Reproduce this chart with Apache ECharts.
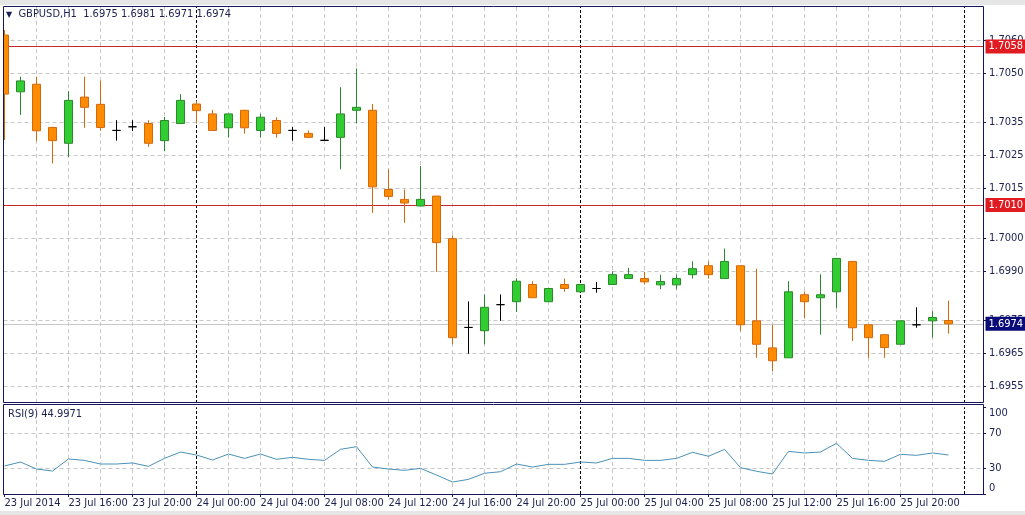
<!DOCTYPE html>
<html><head><meta charset="utf-8">
<script src="https://cdn.jsdelivr.net/npm/echarts@6.0.0/dist/echarts.min.js"></script>
<style>html,body{margin:0;padding:0;background:#fff}#c{width:1025px;height:515px}</style>
</head><body><div id="c"></div>
<script>
const chartTitle = 'GBPUSD,H1  1.6975 1.6981 1.6971 1.6974';
const rsiTitle = 'RSI(9) 44.9971';

const opens  = [1.70615,1.70443,1.70466,1.70335,1.70287,1.70427,1.70405,1.70326,1.70337,1.70347,
                1.70295,1.70347,1.70406,1.70376,1.70334,1.70387,1.70326,1.70356,1.70326,1.70317,
                1.70296,1.70305,1.70387,1.70387,1.70147,1.70117,1.70097,1.70127,1.69998,1.69729,
                1.69719,1.69798,1.69807,1.69859,1.69807,1.69859,1.69837,1.69847,1.69859,1.69877,
                1.69877,1.69858,1.69858,1.69889,1.69916,1.69877,1.69916,1.69749,1.69667,1.69637,
                1.69828,1.69819,1.69837,1.69929,1.69737,1.69707,1.69678,1.69737,1.69749,1.69750];
const closes = [1.70436,1.70476,1.70325,1.70295,1.70417,1.70396,1.70335,1.70326,1.70337,1.70287,
                1.70356,1.70417,1.70386,1.70326,1.70376,1.70334,1.70366,1.70317,1.70326,1.70305,
                1.70296,1.70376,1.70396,1.70155,1.70126,1.70106,1.70117,1.69986,1.69698,1.69729,
                1.69790,1.69798,1.69869,1.69819,1.69847,1.69847,1.69859,1.69847,1.69889,1.69889,
                1.69867,1.69868,1.69877,1.69907,1.69889,1.69929,1.69737,1.69678,1.69628,1.69837,
                1.69807,1.69828,1.69938,1.69728,1.69698,1.69668,1.69749,1.69737,1.69759,1.69740];
const lows   = [1.70297,1.70373,1.70294,1.70226,1.70246,1.70334,1.70325,1.70295,1.70324,1.70276,
                1.70263,1.70347,1.70347,1.70326,1.70304,1.70316,1.70304,1.70304,1.70295,1.70305,
                1.70296,1.70208,1.70347,1.70076,1.70117,1.70046,1.70097,1.69897,1.69678,1.69649,
                1.69678,1.69749,1.69776,1.69819,1.69807,1.69837,1.69837,1.69834,1.69859,1.69877,
                1.69859,1.69845,1.69845,1.69877,1.69877,1.69877,1.69718,1.69637,1.69597,1.69637,
                1.69757,1.69707,1.69788,1.69688,1.69637,1.69637,1.69678,1.69728,1.69698,1.69710];
const highs  = [1.70630,1.70489,1.70489,1.70337,1.70445,1.70489,1.70477,1.70357,1.70357,1.70357,
                1.70367,1.70436,1.70416,1.70388,1.70376,1.70388,1.70376,1.70366,1.70336,1.70326,
                1.70336,1.70457,1.70514,1.70406,1.70208,1.70147,1.70218,1.70127,1.70008,1.69808,
                1.69829,1.69829,1.69878,1.69869,1.69847,1.69877,1.69859,1.69867,1.69899,1.69909,
                1.69897,1.69889,1.69889,1.69929,1.69929,1.69968,1.69916,1.69907,1.69737,1.69869,
                1.69838,1.69890,1.69938,1.69929,1.69737,1.69707,1.69749,1.69790,1.69778,1.69810];
const rsiValues = [32.3,36.9,28.8,26.5,40.4,38.8,34.6,34.6,35.8,31.9,
                   41.1,48.4,45.0,39.2,46.1,41.1,46.1,40.0,42.3,40.0,
                   38.8,51.5,54.6,31.1,28.8,27.3,29.6,21.9,13.8,16.9,
                   23.9,25.7,34.6,31.1,34.2,34.2,36.9,35.8,41.1,41.1,
                   38.8,38.8,41.1,48.1,43.5,51.5,30.4,26.2,23.1,49.2,
                   47.3,48.4,58.5,41.1,38.8,37.7,45.8,44.6,47.3,45.0];

const priceTicks = [1.7060,1.7050,1.7035,1.7025,1.7015,1.7000,1.6990,1.6975,1.6965,1.6955];
const rsiTicks = [0,30,70,100];
const xTickLabels = ['23 Jul 2014','23 Jul 16:00','23 Jul 20:00','24 Jul 00:00','24 Jul 04:00',
                     '24 Jul 08:00','24 Jul 12:00','24 Jul 16:00','24 Jul 20:00','25 Jul 00:00',
                     '25 Jul 04:00','25 Jul 08:00','25 Jul 12:00','25 Jul 16:00','25 Jul 20:00'];
const redLevels = [1.7058, 1.7010];
const bidLevel = 1.6974;
const dayStartIdx = [12, 36, 60];
const rsiGridLevels = [70, 30];

// hourly categories (23 Jul 12:00 ... 26 Jul 01:00)
const dayNames = ['23 Jul','24 Jul','25 Jul','26 Jul'];
const categories = [];
for (let i = 0; i < 62; i++) {
  const h = 12 + i;
  categories.push(dayNames[Math.floor(h / 24)] + ' ' + String(h % 24).padStart(2, '0') + ':00');
}
const evenIdx = [];
for (let i = 2; i < 62; i += 2) if (dayStartIdx.indexOf(i) < 0) evenIdx.push(i);

const FONT = '"Liberation Sans Narrow", "DejaVu Sans Condensed", "Liberation Sans", sans-serif';
const NAVY = '#1b2050';
const BORDER = '#15155a';
const GRIDC = '#c8c8c8';
const dashStyle = {color: GRIDC, width: 1, type: [4, 3]};
const dotStyle = {color: '#000', width: 1, type: [3, 2]};

const candleData = opens.map((o, i) => [o, closes[i], lows[i], highs[i]]);
const tickFn = (idx) => idx % 4 === 0 && idx / 4 < xTickLabels.length;

const mainLines = [].concat(
  priceTicks.map(v => ({yAxis: v, lineStyle: dashStyle})),
  evenIdx.map(i => ({xAxis: i, lineStyle: dashStyle})),
  dayStartIdx.map(i => ({xAxis: i, lineStyle: dotStyle})),
  [{yAxis: bidLevel, lineStyle: {color: '#c8c8c8', width: 1, type: 'solid'}}],
  redLevels.map(v => ({yAxis: v, lineStyle: {color: '#c8282d', width: 1, type: 'solid'}}))
);
const rsiLines = [].concat(
  rsiGridLevels.map(v => ({yAxis: v, lineStyle: dashStyle})),
  evenIdx.map(i => ({xAxis: i, lineStyle: dashStyle})),
  dayStartIdx.map(i => ({xAxis: i, lineStyle: dotStyle}))
);
const tagLine = (v, bg) => ({
  yAxis: v,
  lineStyle: {color: 'rgba(0,0,0,0)', width: 0},
  label: {show: true, position: 'end', distance: -3, formatter: v.toFixed(4),
          backgroundColor: bg, color: '#fff', padding: [2, 3, 1, 3],
          fontFamily: FONT, fontSize: 11, align: 'left', verticalAlign: 'middle'}
});

const chart = echarts.init(document.getElementById('c'), null, {renderer: 'canvas'});
chart.setOption({
  animation: false,
  backgroundColor: '#ffffff',
  title: [
    {text: '{t|▼}  ' + chartTitle, left: 6, top: 9, padding: 0,
     textStyle: {fontFamily: FONT, fontSize: 11, fontWeight: 'normal', color: NAVY,
                 rich: {t: {fontSize: 8, color: NAVY, fontFamily: 'DejaVu Sans'}}}},
    {text: rsiTitle, left: 8, top: 409, padding: 0,
     textStyle: {fontFamily: FONT, fontSize: 11, fontWeight: 'normal', color: NAVY}}
  ],
  grid: [
    {left: -3.5, width: 992, top: 7, height: 396, outerBoundsMode: 'none', containLabel: false},
    {left: -3.5, width: 992, top: 407.3, height: 86.7, outerBoundsMode: 'none', containLabel: false}
  ],
  xAxis: [
    {type: 'category', gridIndex: 0, data: categories, boundaryGap: true, show: false},
    {type: 'category', gridIndex: 1, data: categories, boundaryGap: true,
     axisLine: {show: false},
     axisTick: {show: true, alignWithLabel: true, interval: tickFn, length: 3, lineStyle: {color: BORDER}},
     axisLabel: {interval: tickFn, formatter: (v, idx) => xTickLabels[idx / 4], align: 'left',
                 margin: 4, color: NAVY, fontFamily: FONT, fontSize: 11},
     splitLine: {show: false}}
  ],
  yAxis: [
    {type: 'value', gridIndex: 0, position: 'right', offset: -5.5, min: 1.6950, max: 1.7070, z: 20,
     axisLine: {show: false},
     axisTick: {show: true, customValues: priceTicks, length: 3, lineStyle: {color: BORDER}},
     axisLabel: {customValues: priceTicks, formatter: v => v.toFixed(4), margin: 6,
                 color: NAVY, fontFamily: FONT, fontSize: 11},
     splitLine: {show: false}},
    {type: 'value', gridIndex: 1, position: 'right', offset: -5.5, min: 0, max: 100, z: 20,
     axisLine: {show: false},
     axisTick: {show: true, customValues: rsiTicks, length: 3, lineStyle: {color: BORDER}},
     axisLabel: {customValues: rsiTicks, margin: 6, color: NAVY, fontFamily: FONT, fontSize: 11,
                 verticalAlignMinLabel: 'bottom', verticalAlignMaxLabel: 'top'},
     splitLine: {show: false}}
  ],
  series: [
    {type: 'candlestick', xAxisIndex: 0, yAxisIndex: 0, data: candleData, barWidth: 9, z: 3,
     itemStyle: {color: '#32cd32', color0: '#ff8c00', borderColor: '#2a8a2a',
                 borderColor0: '#d2690f', borderColorDoji: '#000000', borderWidth: 1},
     markLine: {z: 1, silent: true, symbol: 'none', precision: 5, label: {show: false},
                animation: false, data: mainLines}},
    {type: 'line', xAxisIndex: 0, yAxisIndex: 0, data: categories.map(() => null), showSymbol: false,
     markLine: {z: 30, silent: true, symbol: 'none', precision: 5, animation: false,
                data: [tagLine(redLevels[0], '#e01b22'), tagLine(redLevels[1], '#e01b22'),
                       tagLine(bidLevel, '#0a0a78')]}},
    {type: 'line', xAxisIndex: 1, yAxisIndex: 1, data: rsiValues, symbol: 'none', showSymbol: false, z: 3,
     lineStyle: {color: '#4a92b8', width: 1},
     markLine: {z: 1, silent: true, symbol: 'none', precision: 5, label: {show: false},
                animation: false, data: rsiLines}}
  ],
  graphic: [
    {type: 'rect', z: 10, silent: true, shape: {x: 0, y: 0, width: 1025, height: 5}, style: {fill: '#e6e6e6'}},
    {type: 'rect', z: 10, silent: true, shape: {x: 0, y: 511, width: 1025, height: 4}, style: {fill: '#e6e6e6'}},
    {type: 'rect', z: 10, silent: true, shape: {x: 0, y: 5, width: 3, height: 506}, style: {fill: '#ffffff'}},
    {type: 'rect', z: 10, silent: true, shape: {x: 984, y: 5, width: 5, height: 492}, style: {fill: '#ffffff'}},
    {type: 'rect', z: 25, silent: true, shape: {x: 3.5, y: 6.5, width: 980, height: 396}, style: {fill: null, stroke: BORDER, lineWidth: 1}},
    {type: 'rect', z: 25, silent: true, shape: {x: 3.5, y: 404.5, width: 980, height: 90}, style: {fill: null, stroke: BORDER, lineWidth: 1}}
  ]
});
</script>
</body></html>
